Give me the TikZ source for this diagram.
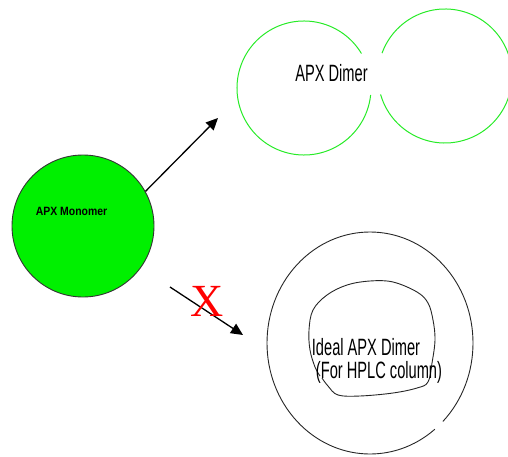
\documentclass[tikz,border=0pt]{standalone}
\usepackage{fontspec}
\usetikzlibrary{arrows.meta}
\newfontfamily\narrowfnt[FakeStretch=0.62]{Liberation Sans}
\newfontfamily\monofnt[FakeStretch=0.87]{Liberation Sans Bold}
\newfontfamily\serifx{Liberation Serif}
\definecolor{brightgreen}{RGB}{0,240,0}
\definecolor{linegreen}{RGB}{40,235,40}
\tikzset{
  bigtext/.style={font=\narrowfnt\fontsize{23.6}{28}\selectfont, inner sep=0pt, anchor=base},
  arrowline/.style={line width=1.3pt, -{Triangle[length=12pt,width=11pt]}},
  dimerline/.style={draw=linegreen, line width=1pt},
  outline/.style={draw=black!85, line width=0.9pt},
}
\begin{document}
\begin{tikzpicture}[x=1pt,y=1pt]
\useasboundingbox (0,0) rectangle (508,456);
% monomer
\node[circle, fill=brightgreen, draw=black!80, line width=0.9pt, minimum size=142pt, inner sep=0pt] (mono) at (83,230) {};
\node[font=\monofnt\fontsize{12}{14}\selectfont, inner sep=0pt, anchor=base] (monotext) at (71.5,241) {APX Monomer};
% dimer circles
\draw[dimerline] (304,368) ++(31:67) arc[start angle=31, end angle=354, radius=67];
\draw[dimerline] (445,380) ++(196:67) arc[start angle=196, end angle=520, radius=67];
\node[bigtext] (dimertext) at (331.5,374) {APX Dimer};
% arrow to dimer
\coordinate (t1) at (218,338);
\draw[arrowline] (mono.29) -- (t1);
% crossed arrow
\coordinate (s2) at (170,169);
\coordinate (t2) at (243,121);
\draw[arrowline] (s2) -- (t2);
\node[font=\serifx\fontsize{46}{50}\selectfont, text=red, inner sep=0pt] (cross) at (207.5,155) {X};
% ideal dimer
\draw[outline] (370,113) ++(-45:103 and 111) arc[start angle=-45, end angle=309, x radius=103, y radius=111];
\draw[outline] plot[smooth, tension=0.6] coordinates {(322,78) (328,70) (338,61) (360,60) (393,63) (417,68) (428,74) (432,93) (435,116) (433,136) (428,153) (417,164) (393,174) (370,175) (347,171) (327,161) (313,146) (309,126) (310,106) (315,89) (320,80)};
\node[bigtext] (idealtext) at (366,101) {Ideal APX Dimer};
\node[bigtext] (hplctext) at (379,78) {(For HPLC column)};
\end{tikzpicture}
\end{document}
